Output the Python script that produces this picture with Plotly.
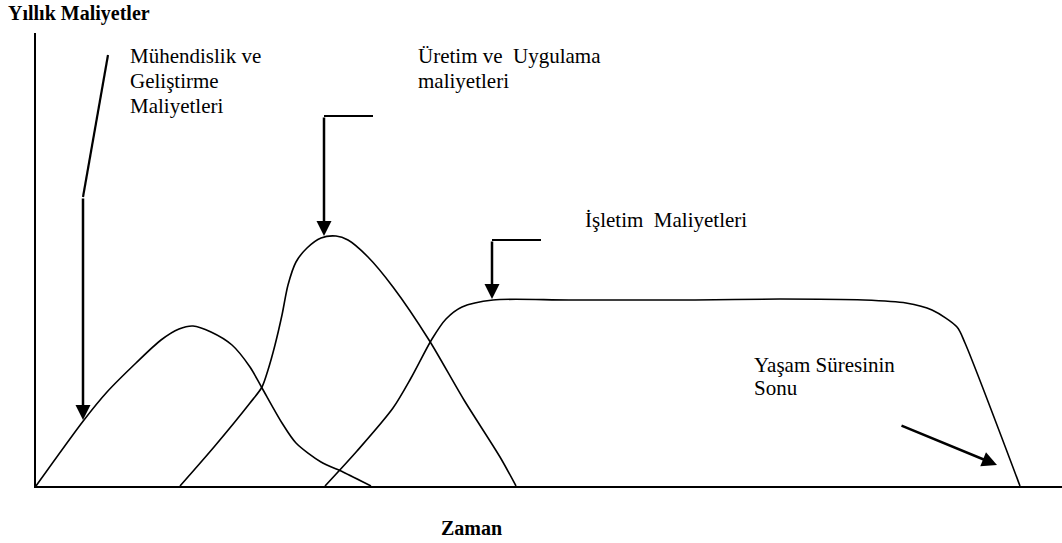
import plotly.graph_objects as go

# ---- data (time, annual cost) in arbitrary units ----
eng_time = [0, 4.8, 7.1, 10.0, 12.5, 14.3, 15.7, 17.5, 19.6, 21.4, 22.6, 24.6, 26.0, 28.5, 30.7, 33.5]
eng_cost = [0, 6.6, 9.4, 12.3, 14.6, 15.7, 16.0, 15.4, 14.1, 11.9, 9.8, 6.3, 4.3, 2.4, 1.4, 0]

prod_time = [14.4, 17.8, 21.4, 22.6, 23.2, 23.9, 24.6, 25.2, 26.0, 27.1, 28.5, 30.0, 31.2, 33.2, 35.7, 39.3, 42.8, 46.4, 48.0]
prod_cost = [0, 3.9, 8.3, 9.9, 11.6, 14.1, 17.1, 20.1, 22.4, 23.8, 24.8, 25.0, 24.6, 22.9, 19.9, 14.6, 8.6, 2.9, 0]

ops_time = [28.9, 32.1, 35.7, 37.5, 39.6, 41.0, 42.6, 45.7, 53.3, 65.9, 74.4, 82.8, 87.0, 89.6, 92.1, 92.9, 98.4]
ops_cost = [0, 3.5, 7.8, 10.8, 14.7, 16.7, 17.9, 18.6, 18.6, 18.6, 18.7, 18.6, 18.3, 17.6, 15.9, 14.3, 0]

# pointer leaders (x list, y list) and arrows (from -> tip)
eng_leader = ([7.2, 4.7], [43.1, 28.9])
prod_leader = ([33.7, 28.8], [37.0, 37.0])
ops_leader = ([50.5, 45.6], [24.6, 24.6])
arrows = [  # (x_from, y_from, x_tip, y_tip)
    (4.7, 28.9, 4.7, 6.6),
    (28.8, 37.0, 28.8, 25.0),
    (45.6, 24.6, 45.6, 18.7),
    (86.4, 6.1, 96.1, 2.1),
]

# labels: (text, x, y) - data coords, left anchored, vertical middle
labels = [
    ("Mühendislik ve", 9.2, 43.0),
    ("Geliştirme", 9.2, 40.5),
    ("Maliyetleri", 9.2, 38.0),
    ("Üretim ve\u00a0 Uygulama", 38.0, 43.0),
    ("maliyetleri", 38.0, 40.5),
    ("İşletim\u00a0 Maliyetleri", 54.7, 26.6),
    ("Yaşam Süresinin", 71.6, 12.1),
    ("Sonu", 71.6, 9.8),
]
y_title = "Yıllık Maliyetler"
x_title = "Zaman"

FONT = "Liberation Serif, Times New Roman, Tinos, serif"
fig = go.Figure()

for xs, ys in [(eng_time, eng_cost), (prod_time, prod_cost), (ops_time, ops_cost)]:
    fig.add_trace(go.Scatter(x=xs, y=ys, mode="lines",
                             line=dict(color="black", width=1.6, shape="spline", smoothing=0.8),
                             hoverinfo="skip", showlegend=False))

for xs, ys in [eng_leader, prod_leader, ops_leader]:
    fig.add_trace(go.Scatter(x=xs, y=ys, mode="lines",
                             line=dict(color="black", width=2.2),
                             hoverinfo="skip", showlegend=False))

for (x0, y0, x1, y1) in arrows:
    fig.add_annotation(x=x1, y=y1, ax=x0, ay=y0, xref="x", yref="y", axref="x", ayref="y",
                       text="", showarrow=True, arrowhead=2, arrowsize=1.2, arrowwidth=2.5,
                       arrowcolor="black")

for text, x, y in labels:
    fig.add_annotation(x=x, y=y, xref="x", yref="y", text=text, showarrow=False,
                       xanchor="left", yanchor="middle",
                       font=dict(family=FONT, size=21, color="black"))

fig.add_annotation(x=-0.029, y=1.042, xref="paper", yref="paper", text="<b>%s</b>" % y_title,
                   showarrow=False, xanchor="left", yanchor="middle",
                   font=dict(family=FONT, size=20, color="black"))
fig.add_annotation(x=0.4245, y=-0.093, xref="paper", yref="paper", text="<b>%s</b>" % x_title,
                   showarrow=False, xanchor="center", yanchor="middle",
                   font=dict(family=FONT, size=20, color="black"))

fig.update_layout(
    width=1062, height=543,
    margin=dict(l=36, r=0, t=33, b=57),
    paper_bgcolor="white", plot_bgcolor="white",
    font=dict(family=FONT),
    xaxis=dict(range=[0, 102.6], showgrid=False, zeroline=False, showticklabels=False,
               ticks="", showline=True, linecolor="black", linewidth=2, fixedrange=True),
    yaxis=dict(range=[0, 45.3], showgrid=False, zeroline=False, showticklabels=False,
               ticks="", showline=True, linecolor="black", linewidth=2, fixedrange=True),
    hovermode=False,
)

# remove the page's default 8px body margin so the figure sits at the window's top-left corner
fig.write_html("out.html", config={"displayModeBar": False},
               post_script="document.body.style.margin='0';")
